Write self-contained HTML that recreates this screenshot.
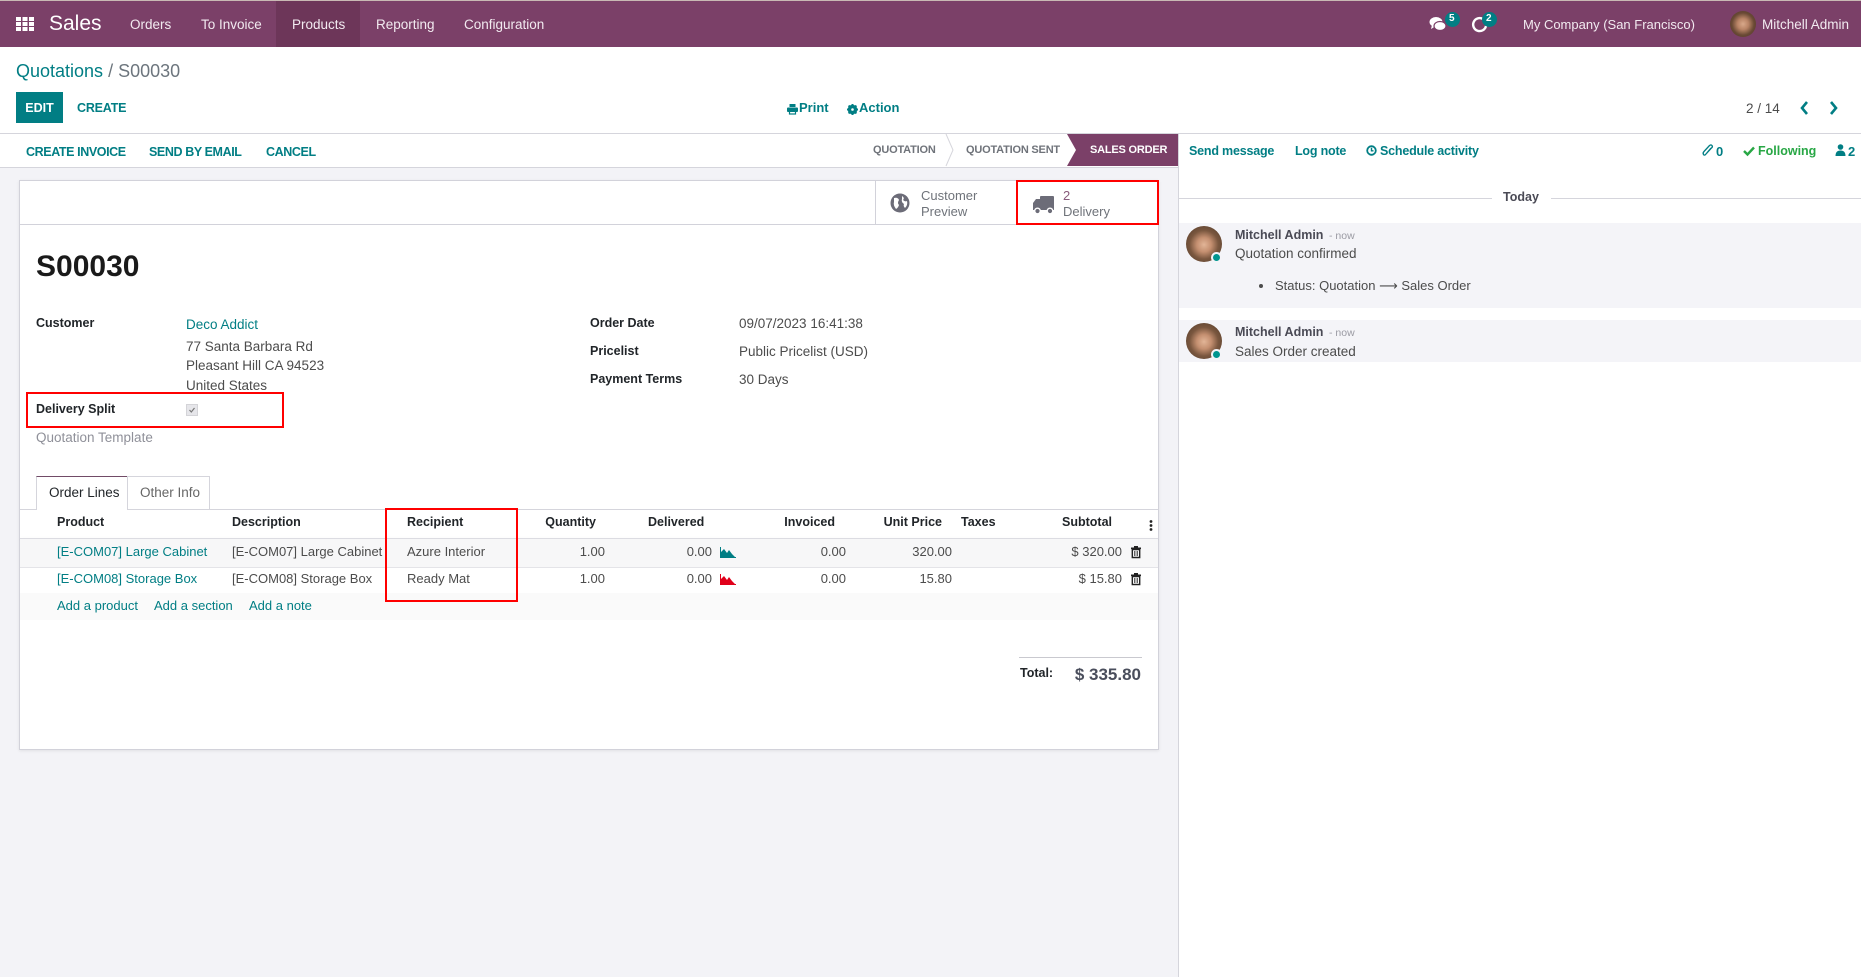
<!DOCTYPE html>
<html><head><meta charset="utf-8">
<style>
*{margin:0;padding:0;box-sizing:border-box}
html,body{width:1861px;height:977px;overflow:hidden;background:#fff}
body{font-family:"Liberation Sans",Arial,sans-serif;color:#4c4c4c;position:relative}
.t{position:absolute;white-space:nowrap;line-height:1}
.b{font-weight:bold}
.teal{color:#017e84}
.dk{color:#212529}
.r{text-align:right}
.abs{position:absolute}
svg{position:absolute;overflow:visible}
</style></head>
<body>

<!-- NAVBAR -->
<div class="abs" style="left:0;top:0;width:1861px;height:47px;background:#7b4068;border-top:1px solid #c9b9b4"></div>
<div class="abs" style="left:276px;top:1px;width:84px;height:46px;background:#6d3659"></div>
<svg style="left:0;top:0" width="40" height="40">
  <g fill="#fff">
    <rect x="16" y="17" width="5" height="4"/><rect x="22.5" y="17" width="5" height="4"/><rect x="29" y="17" width="5" height="4"/>
    <rect x="16" y="22" width="5" height="4"/><rect x="22.5" y="22" width="5" height="4"/><rect x="29" y="22" width="5" height="4"/>
    <rect x="16" y="27" width="5" height="4"/><rect x="22.5" y="27" width="5" height="4"/><rect x="29" y="27" width="5" height="4"/>
  </g>
</svg>
<div class="t" style="left:49px;top:13px;font-size:21px;color:#fff">Sales</div>
<div class="t" style="left:130px;top:18px;font-size:13.5px;color:#f2eaf0">Orders</div>
<div class="t" style="left:201px;top:18px;font-size:13.5px;color:#f2eaf0">To Invoice</div>
<div class="t" style="left:292px;top:18px;font-size:13.5px;color:#f2eaf0">Products</div>
<div class="t" style="left:376px;top:18px;font-size:13.5px;color:#f2eaf0">Reporting</div>
<div class="t" style="left:464px;top:18px;font-size:13.5px;color:#f2eaf0">Configuration</div>

<!-- chat icon -->
<svg style="left:1428px;top:14px" width="24" height="22">
  <ellipse cx="8" cy="8" rx="6.5" ry="5" fill="#fff"/>
  <path d="M4 11 L3 15 L8 12 Z" fill="#fff"/>
  <ellipse cx="12" cy="12" rx="6" ry="4.5" fill="#fff" stroke="#7b4068" stroke-width="1.2"/>
</svg>
<div class="abs" style="left:1445px;top:12px;width:15px;height:15px;border-radius:50%;background:#017e84"></div>
<div class="t b" style="left:1449px;top:14px;font-size:10px;color:#fff">5</div>
<!-- activity clock -->
<svg style="left:1472px;top:16px" width="18" height="18">
  <path d="M11 3 A6.5 6.5 0 1 0 14 10" fill="none" stroke="#fff" stroke-width="2.4"/>
</svg>
<div class="abs" style="left:1482px;top:12px;width:15px;height:15px;border-radius:50%;background:#017e84"></div>
<div class="t b" style="left:1486px;top:14px;font-size:10px;color:#fff">2</div>
<div class="t" style="left:1523px;top:18px;font-size:13px;color:#f2eaf0">My Company (San Francisco)</div>
<div class="abs" style="left:1730px;top:11px;width:26px;height:26px;border-radius:50%;background:radial-gradient(circle at 50% 50%,#d8a88a 0,#b98466 30%,#6a4a35 60%,#4a3526 100%)"></div>
<div class="t" style="left:1762px;top:18px;font-size:13.5px;color:#f2eaf0">Mitchell Admin</div>

<!-- CONTROL PANEL -->
<div class="t" style="left:16px;top:62px;font-size:18px"><span class="teal">Quotations</span><span style="color:#6c757d"> / S00030</span></div>
<div class="abs" style="left:16px;top:92px;width:47px;height:31px;background:#017e84"></div>
<div class="t b" style="left:16px;top:102px;width:47px;text-align:center;font-size:12.5px;color:#fff">EDIT</div>
<div class="t b teal" style="left:77px;top:102px;font-size:12.5px;letter-spacing:-0.2px">CREATE</div>

<svg style="left:787px;top:104px" width="11" height="11">
  <rect x="2.5" y="0" width="6" height="3" fill="#017e84"/>
  <rect x="0" y="3.5" width="11" height="4.5" rx="1" fill="#017e84"/>
  <rect x="2.5" y="7" width="6" height="3" fill="none" stroke="#017e84" stroke-width="1.2"/>
</svg>
<div class="t b teal" style="left:799px;top:101px;font-size:13px">Print</div>
<svg style="left:847px;top:104px" width="11" height="11">
  <circle cx="5.5" cy="5.5" r="3.6" fill="none" stroke="#017e84" stroke-width="2.4"/>
  <g stroke="#017e84" stroke-width="2"><line x1="5.5" y1="0" x2="5.5" y2="11"/><line x1="0" y1="5.5" x2="11" y2="5.5"/><line x1="1.6" y1="1.6" x2="9.4" y2="9.4"/><line x1="9.4" y1="1.6" x2="1.6" y2="9.4"/></g>
  <circle cx="5.5" cy="5.5" r="1.3" fill="#fff"/>
</svg>
<div class="t b teal" style="left:859px;top:101px;font-size:13px">Action</div>

<div class="t" style="left:1746px;top:101.5px;font-size:13.5px">2 / 14</div>
<svg style="left:1800px;top:101px" width="40" height="16">
  <polyline points="7,1 2,7 7,13" fill="none" stroke="#017e84" stroke-width="2.6"/>
  <polyline points="31,1 36,7 31,13" fill="none" stroke="#017e84" stroke-width="2.6"/>
</svg>

<div class="abs" style="left:0;top:133px;width:1861px;height:1px;background:#d5d5dc"></div>

<!-- STATUS ROW -->
<div class="t b teal" style="left:26px;top:145.5px;font-size:12.5px;letter-spacing:-0.4px">CREATE INVOICE</div>
<div class="t b teal" style="left:149px;top:145.5px;font-size:12.5px;letter-spacing:-0.4px">SEND BY EMAIL</div>
<div class="t b teal" style="left:266px;top:145.5px;font-size:12.5px;letter-spacing:-0.4px">CANCEL</div>

<div class="t b" style="left:873px;top:145px;font-size:11px;letter-spacing:-0.2px;color:#6f737a">QUOTATION</div>
<svg style="left:0;top:0" width="1" height="1">
  <polyline points="946,134 953,150 946,166" fill="none" stroke="#d6d6dc" stroke-width="1"/>
  <polygon points="1067,134 1178,134 1178,166 1067,166 1076,150" fill="#7b4068"/>
</svg>
<div class="t b" style="left:966px;top:145px;font-size:11px;letter-spacing:-0.2px;color:#6f737a">QUOTATION SENT</div>
<div class="t b" style="left:1090px;top:145px;font-size:11px;letter-spacing:-0.2px;color:#fff">SALES ORDER</div>

<div class="abs" style="left:0;top:167px;width:1178px;height:1px;background:#d5d5dc"></div>

<!-- grey bg -->
<div class="abs" style="left:0;top:168px;width:1178px;height:809px;background:#f3f3f7"></div>
<!-- chatter border -->
<div class="abs" style="left:1178px;top:134px;width:1px;height:843px;background:#d5d5dc"></div>

<!-- CHATTER TOPBAR -->
<div class="t b teal" style="left:1189px;top:144.5px;font-size:12.5px;letter-spacing:-0.2px">Send message</div>
<div class="t b teal" style="left:1295px;top:144.5px;font-size:12.5px;letter-spacing:-0.2px">Log note</div>
<svg style="left:1366px;top:145px" width="11" height="11">
  <circle cx="5.5" cy="5.5" r="4.3" fill="none" stroke="#017e84" stroke-width="1.8"/>
  <polyline points="5.5,2.8 5.5,5.8 7.5,5.8" fill="none" stroke="#017e84" stroke-width="1.4"/>
</svg>
<div class="t b teal" style="left:1380px;top:144.5px;font-size:12.5px;letter-spacing:-0.2px">Schedule activity</div>
<svg style="left:1702px;top:144px" width="12" height="13">
  <path d="M9 4 L4 10 Q2.5 12 1.5 10.5 Q0.5 9 2 7.5 L7.5 1.5 Q9 0.3 10 1.5 Q11 2.8 9.5 4 L4.5 9.5" fill="none" stroke="#017e84" stroke-width="1.3"/>
</svg>
<div class="t b teal" style="left:1716px;top:144.5px;font-size:13px">0</div>
<svg style="left:1743px;top:146px" width="12" height="10">
  <polyline points="1,5 4.5,8.5 11,1.5" fill="none" stroke="#28a745" stroke-width="2.4"/>
</svg>
<div class="t b" style="left:1758px;top:144.5px;font-size:12.5px;color:#28a745">Following</div>
<svg style="left:1835px;top:144px" width="11" height="12">
  <circle cx="5.5" cy="3" r="2.8" fill="#017e84"/>
  <path d="M0.5 12 Q0.5 6.5 5.5 6.5 Q10.5 6.5 10.5 12 Z" fill="#017e84"/>
</svg>
<div class="t b teal" style="left:1848px;top:144.5px;font-size:13px">2</div>

<!-- SHEET -->
<div class="abs" style="left:19px;top:180px;width:1140px;height:570px;background:#fff;border:1px solid #d2d2da;box-shadow:0 1px 3px rgba(0,0,0,0.08)"></div>
<div class="abs" style="left:20px;top:224px;width:1138px;height:1px;background:#d2d2da"></div>
<div class="abs" style="left:875px;top:181px;width:1px;height:43px;background:#d2d2da"></div>
<div class="abs" style="left:1016px;top:181px;width:1px;height:43px;background:#d2d2da"></div>

<!-- globe -->
<svg style="left:890px;top:193px" width="21" height="21">
  <circle cx="10" cy="10" r="9.5" fill="#6c6c78"/>
  <path d="M4 5 Q8 4 9 7 Q7 10 9 12 Q8 15 6 16 Q3 12 4 9 Z" fill="#fff"/>
  <path d="M12 3 Q15 5 13 7 Q15 9 17 8 Q18 12 15 15 Q13 13 14 11 Q11 9 12 6 Z" fill="#fff"/>
</svg>
<div class="t" style="left:921px;top:189px;font-size:13px;color:#6f737a">Customer</div>
<div class="t" style="left:921px;top:205px;font-size:13px;color:#6f737a">Preview</div>
<!-- truck -->
<svg style="left:1032px;top:194px" width="24" height="22">
  <rect x="8" y="2" width="14" height="12" rx="1" fill="#6c6c78"/>
  <path d="M1 14 L1 9 L4 5 L8 5 L8 14 Z" fill="#6c6c78"/>
  <rect x="1" y="12" width="21" height="4" fill="#6c6c78"/>
  <circle cx="5.5" cy="17" r="2.8" fill="#6c6c78" stroke="#fff" stroke-width="1.4"/>
  <circle cx="18" cy="17" r="2.8" fill="#6c6c78" stroke="#fff" stroke-width="1.4"/>
</svg>
<div class="t" style="left:1063px;top:189px;font-size:13px;color:#875a7b">2</div>
<div class="t" style="left:1063px;top:205px;font-size:13px;color:#6f737a">Delivery</div>
<div class="abs" style="left:1016px;top:180px;width:143px;height:45px;border:2px solid #f00"></div>

<!-- Title -->
<div class="t b" style="left:36px;top:251.6px;font-size:30px;color:#1a1a1a">S00030</div>

<!-- Fields left -->
<div class="t b dk" style="left:36px;top:317px;font-size:12.5px">Customer</div>
<div class="t teal" style="left:186px;top:317.6px;font-size:13.5px">Deco Addict</div>
<div class="t" style="left:186px;top:339.6px;font-size:13.5px">77 Santa Barbara Rd</div>
<div class="t" style="left:186px;top:358.6px;font-size:13.5px">Pleasant Hill CA 94523</div>
<div class="t" style="left:186px;top:378.6px;font-size:13.5px">United States</div>
<div class="t b dk" style="left:36px;top:403px;font-size:12.5px">Delivery Split</div>
<div class="abs" style="left:186px;top:404px;width:12px;height:12px;background:#e6e6ea;border:1px solid #d4d4d8"></div>
<svg style="left:188px;top:406px" width="8" height="8">
  <polyline points="1.5,4 3.3,6 6.5,2" fill="none" stroke="#777" stroke-width="1.2"/>
</svg>
<div class="abs" style="left:26px;top:392px;width:258px;height:36px;border:2px solid #f00"></div>
<div class="t" style="left:36px;top:430.6px;font-size:13.5px;color:#8f9099">Quotation Template</div>

<!-- Fields right -->
<div class="t b dk" style="left:590px;top:317px;font-size:12.5px">Order Date</div>
<div class="t" style="left:739px;top:316.6px;font-size:13.5px">09/07/2023 16:41:38</div>
<div class="t b dk" style="left:590px;top:345px;font-size:12.5px">Pricelist</div>
<div class="t" style="left:739px;top:344.6px;font-size:13.5px">Public Pricelist (USD)</div>
<div class="t b dk" style="left:590px;top:373px;font-size:12.5px">Payment Terms</div>
<div class="t" style="left:739px;top:372.6px;font-size:13.5px">30 Days</div>

<!-- Tabs -->
<div class="abs" style="left:20px;top:509px;width:1138px;height:1px;background:#d5d5dc"></div>
<div class="abs" style="left:36px;top:476px;width:92px;height:34px;background:#fff;border:1px solid #d5d5dc;border-top:1px solid #714b67;border-bottom:none"></div>
<div class="abs" style="left:127px;top:476px;width:83px;height:33px;border:1px solid #d5d5dc;border-bottom:none"></div>
<div class="t dk" style="left:49px;top:485.6px;font-size:13.5px">Order Lines</div>
<div class="t" style="left:140px;top:485.6px;font-size:13.5px;color:#666">Other Info</div>

<!-- Table -->
<div class="abs" style="left:20px;top:538px;width:1138px;height:1px;background:#dcdce2;box-shadow:0 1px 3px rgba(0,0,0,0.08)"></div>
<div class="abs" style="left:20px;top:539px;width:1138px;height:28px;background:#f7f7f8"></div>
<div class="abs" style="left:20px;top:567px;width:1138px;height:1px;background:#e4e4e8"></div>
<div class="abs" style="left:20px;top:593px;width:1138px;height:27px;background:#fafafa"></div>

<div class="t b dk" style="left:57px;top:516.4px;font-size:12.5px">Product</div>
<div class="t b dk" style="left:232px;top:516.4px;font-size:12.5px">Description</div>
<div class="t b dk" style="left:407px;top:516.4px;font-size:12.5px">Recipient</div>
<div class="t b dk r" style="right:1265px;top:516.4px;font-size:12.5px">Quantity</div>
<div class="t b dk" style="left:648px;top:516.4px;font-size:12.5px">Delivered</div>
<div class="t b dk r" style="right:1026px;top:516.4px;font-size:12.5px">Invoiced</div>
<div class="t b dk r" style="right:919px;top:516.4px;font-size:12.5px">Unit Price</div>
<div class="t b dk" style="left:961px;top:516.4px;font-size:12.5px">Taxes</div>
<div class="t b dk r" style="right:749px;top:516.4px;font-size:12.5px">Subtotal</div>
<svg style="left:1149px;top:520px" width="4" height="12">
  <circle cx="2" cy="1.5" r="1.4" fill="#222"/><circle cx="2" cy="5.5" r="1.4" fill="#222"/><circle cx="2" cy="9.5" r="1.4" fill="#222"/>
</svg>

<!-- Row 1 -->
<div class="t teal" style="left:57px;top:545px;font-size:13px">[E-COM07] Large Cabinet</div>
<div class="t" style="left:232px;top:545px;font-size:13px">[E-COM07] Large Cabinet</div>
<div class="t" style="left:407px;top:545px;font-size:13px">Azure Interior</div>
<div class="t r" style="right:1256px;top:545px;font-size:13px">1.00</div>
<div class="t r" style="right:1149px;top:545px;font-size:13px">0.00</div>
<svg style="left:720px;top:547px" width="16" height="11">
  <polygon points="1,10 1,5 4,2 7,6 9,3 12,7 15,10" fill="#017e84"/>
  <line x1="0.5" y1="0" x2="0.5" y2="10.5" stroke="#017e84"/><line x1="0" y1="10.5" x2="16" y2="10.5" stroke="#017e84"/>
</svg>
<div class="t r" style="right:1015px;top:545px;font-size:13px">0.00</div>
<div class="t r" style="right:909px;top:545px;font-size:13px">320.00</div>
<div class="t r" style="right:739px;top:545px;font-size:13px">$ 320.00</div>
<svg style="left:1131px;top:546px" width="10" height="12">
  <rect x="0" y="1.5" width="10" height="1.6" fill="#222"/><rect x="3" y="0" width="4" height="2" fill="#222"/>
  <path d="M1.3 3.5 H8.7 V11.5 H1.3 Z" fill="none" stroke="#222" stroke-width="1.4"/>
  <line x1="3.8" y1="5" x2="3.8" y2="10" stroke="#222"/><line x1="6.2" y1="5" x2="6.2" y2="10" stroke="#222"/>
</svg>

<!-- Row 2 -->
<div class="t teal" style="left:57px;top:572px;font-size:13px">[E-COM08] Storage Box</div>
<div class="t" style="left:232px;top:572px;font-size:13px">[E-COM08] Storage Box</div>
<div class="t" style="left:407px;top:572px;font-size:13px">Ready Mat</div>
<div class="t r" style="right:1256px;top:572px;font-size:13px">1.00</div>
<div class="t r" style="right:1149px;top:572px;font-size:13px">0.00</div>
<svg style="left:720px;top:574px" width="16" height="11">
  <polygon points="1,10 1,5 4,2 7,6 9,3 12,7 15,10" fill="#e0001a"/>
  <line x1="0.5" y1="0" x2="0.5" y2="10.5" stroke="#e0001a"/><line x1="0" y1="10.5" x2="16" y2="10.5" stroke="#e0001a"/>
</svg>
<div class="t r" style="right:1015px;top:572px;font-size:13px">0.00</div>
<div class="t r" style="right:909px;top:572px;font-size:13px">15.80</div>
<div class="t r" style="right:739px;top:572px;font-size:13px">$ 15.80</div>
<svg style="left:1131px;top:573px" width="10" height="12">
  <rect x="0" y="1.5" width="10" height="1.6" fill="#222"/><rect x="3" y="0" width="4" height="2" fill="#222"/>
  <path d="M1.3 3.5 H8.7 V11.5 H1.3 Z" fill="none" stroke="#222" stroke-width="1.4"/>
  <line x1="3.8" y1="5" x2="3.8" y2="10" stroke="#222"/><line x1="6.2" y1="5" x2="6.2" y2="10" stroke="#222"/>
</svg>

<!-- Add row -->
<div class="t teal" style="left:57px;top:599px;font-size:13px">Add a product</div>
<div class="t teal" style="left:154px;top:599px;font-size:13px">Add a section</div>
<div class="t teal" style="left:249px;top:599px;font-size:13px">Add a note</div>

<div class="abs" style="left:385px;top:508px;width:133px;height:94px;border:2px solid #f00"></div>

<!-- Total -->
<div class="abs" style="left:1019px;top:657px;width:123px;height:1px;background:#c9c9cf"></div>
<div class="t b dk" style="left:1020px;top:667px;font-size:12.5px">Total:</div>
<div class="t b r" style="right:720px;top:665.6px;font-size:17px;color:#4a4e5c">$ 335.80</div>

<!-- CHATTER -->
<div class="abs" style="left:1179px;top:198px;width:313px;height:1px;background:#d5d5dc"></div>
<div class="abs" style="left:1551px;top:198px;width:310px;height:1px;background:#d5d5dc"></div>
<div class="t b" style="left:1521px;top:191.4px;font-size:12.5px;transform:translateX(-50%);color:#4a4a55">Today</div>

<div class="abs" style="left:1179px;top:223px;width:682px;height:85px;background:#f4f4f8"></div>
<div class="abs" style="left:1186px;top:226px;width:36px;height:36px;border-radius:50%;background:radial-gradient(circle at 50% 52%,#e2b597 0,#c48f70 28%,#7a573f 55%,#4d3828 100%)"></div>
<div class="abs" style="left:1211px;top:252px;width:11px;height:11px;border-radius:50%;background:#00958f;border:2px solid #f4f4f8"></div>
<div class="t b" style="left:1235px;top:229.4px;font-size:12.5px;color:#4a4a55">Mitchell Admin</div>
<div class="t" style="left:1329px;top:231px;font-size:10.5px;color:#9a9aa3">- now</div>
<div class="t" style="left:1235px;top:246.6px;font-size:13.5px">Quotation confirmed</div>
<div class="abs" style="left:1259px;top:284px;width:4px;height:4px;border-radius:50%;background:#4c4c4c"></div>
<div class="t" style="left:1275px;top:279px;font-size:13px">Status: Quotation <span style="font-family:'DejaVu Sans',sans-serif">⟶</span> Sales Order</div>

<div class="abs" style="left:1179px;top:320px;width:682px;height:42px;background:#f4f4f8"></div>
<div class="abs" style="left:1186px;top:323px;width:36px;height:36px;border-radius:50%;background:radial-gradient(circle at 50% 52%,#e2b597 0,#c48f70 28%,#7a573f 55%,#4d3828 100%)"></div>
<div class="abs" style="left:1211px;top:349px;width:11px;height:11px;border-radius:50%;background:#00958f;border:2px solid #f4f4f8"></div>
<div class="t b" style="left:1235px;top:326.4px;font-size:12.5px;color:#4a4a55">Mitchell Admin</div>
<div class="t" style="left:1329px;top:328px;font-size:10.5px;color:#9a9aa3">- now</div>
<div class="t" style="left:1235px;top:344.6px;font-size:13.5px">Sales Order created</div>

</body></html>
